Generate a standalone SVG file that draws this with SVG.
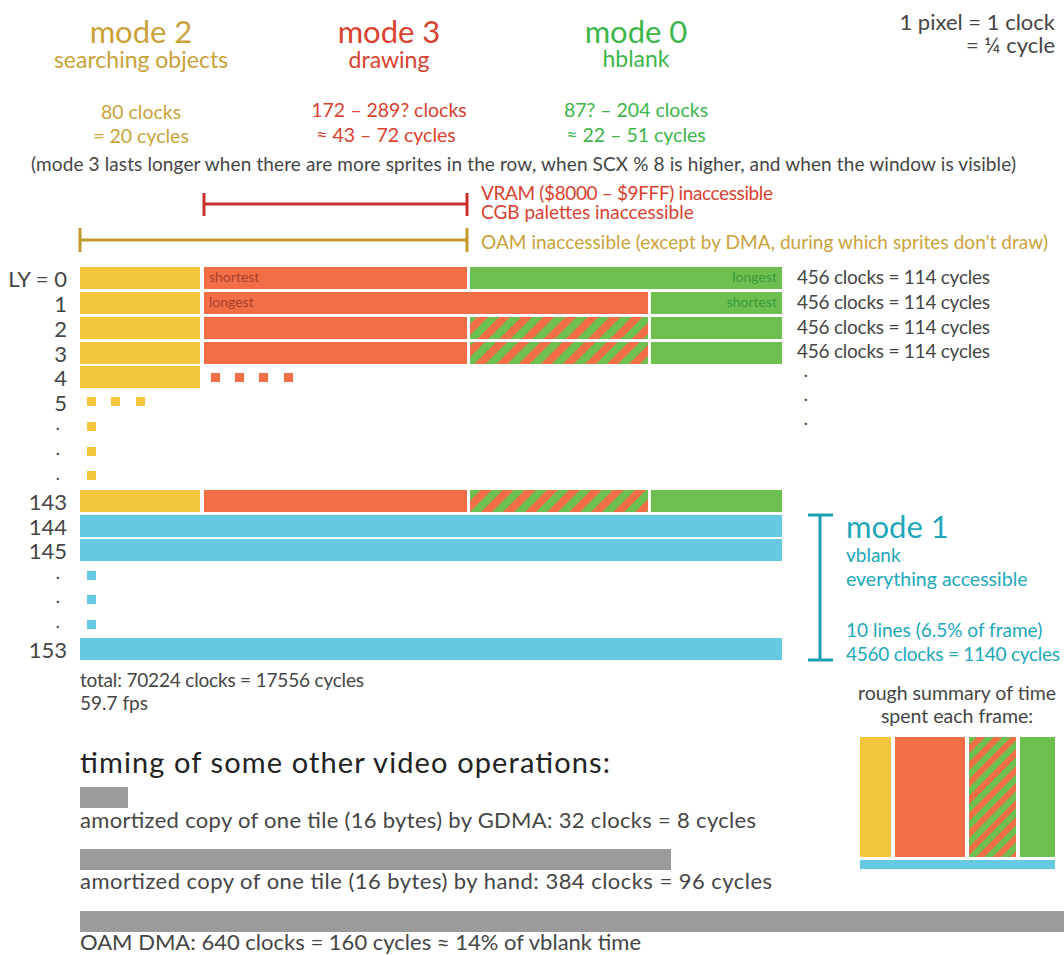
<svg xmlns="http://www.w3.org/2000/svg" width="1064" height="955" viewBox="0 0 1064 955">
  <style>
    text { font-family: Lato, "Noto Sans", "Liberation Sans", sans-serif; }
    .gold { fill: #c9a23a; }
    .red { fill: #d8422f; }
    .green { fill: #3db54b; }
    .cyan { fill: #22a7ba; }
    .grey { fill: #454545; }
    .big { font-size: 31px; }
    .sub { font-size: 23px; }
    .cnt { font-size: 19.5px; }
    .note { font-size: 19px; }
    .row { font-size: 22px; fill: #454545; text-anchor: end; }
    .dot { font-size: 15px; font-weight: bold; fill: #454545; }
    .tag { font-size: 14px; }
    .mid { text-anchor: middle; }
    .end { text-anchor: end; }
    .op { font-size: 22px; fill: #454545; }
    .y { fill: #f4c63d; }
    .o { fill: #f26e47; }
    .g { fill: #6dbf50; }
    .s { fill: url(#stripes); }
    .s2 { fill: url(#stripes2); }
    .c { fill: #64c9e1; }
    .bar { fill: #9b9b9b; }
  </style>
  <defs>
    <!-- red/green diagonal hatching for the variable mode 3 / mode 0 span -->
    <pattern id="stripes" width="15.6" height="15.6" patternUnits="userSpaceOnUse" patternTransform="rotate(45)">
      <rect width="15.6" height="15.6" fill="#6dbf50"/>
      <rect width="7.8" height="15.6" fill="#f26e47"/>
    </pattern>
    <pattern id="stripes2" width="12" height="12" patternUnits="userSpaceOnUse" patternTransform="rotate(45)">
      <rect width="12" height="12" fill="#6dbf50"/>
      <rect width="6" height="12" fill="#f26e47"/>
    </pattern>
  </defs>

  <rect width="1064" height="955" fill="#ffffff"/>

  <!-- mode headings -->
  <g id="mode2-head">
    <text x="141" y="43" class="big gold mid">mode 2</text>
    <text x="141" y="68" class="sub gold mid">searching objects</text>
    <text x="141" y="119" class="cnt gold mid">80 clocks</text>
    <text x="141" y="143" class="cnt gold mid">= 20 cycles</text>
  </g>
  <g id="mode3-head">
    <text x="389" y="43" class="big red mid">mode 3</text>
    <text x="389" y="68" class="sub red mid">drawing</text>
    <text x="389" y="117" class="cnt red mid">172 – 289? clocks</text>
    <text x="386" y="142" class="cnt red mid">≈ 43 – 72 cycles</text>
  </g>
  <g id="mode0-head">
    <text x="636" y="43" class="big green mid">mode 0</text>
    <text x="636" y="67" class="sub green mid">hblank</text>
    <text x="636" y="117" class="cnt green mid">87? – 204 clocks</text>
    <text x="636" y="142" class="cnt green mid">≈ 22 – 51 cycles</text>
  </g>
  <g id="scale-note">
    <text x="1055" y="30" class="grey end" font-size="22">1 pixel = 1 clock</text>
    <text x="1055" y="53" class="grey end" font-size="22">= ¼ cycle</text>
  </g>
  <g id="mode3-note">
    <text x="31" y="171" class="note grey" textLength="985">(mode 3 lasts longer when there are more sprites in the row, when SCX % 8 is higher, and when the window is visible)</text>
  </g>

  <!-- access brackets -->
  <g id="vram-bracket">
    <path d="M204 204H467M204 193V216M467 193V216" stroke="#c9302c" stroke-width="3" fill="none"/>
    <text x="481" y="200" class="note red" textLength="292">VRAM ($8000 – $9FFF) inaccessible</text>
    <text x="481" y="219" class="note red">CGB palettes inaccessible</text>
  </g>
  <g id="oam-bracket">
    <path d="M80 240H467M80 228V252M467 228V252" stroke="#c49a2c" stroke-width="3" fill="none"/>
    <text x="481" y="249" class="note gold" textLength="567">OAM inaccessible (except by DMA, during which sprites don't draw)</text>
  </g>

  <!-- scanline rows -->
  <g id="row-0">
    <text x="67" y="287" class="row">LY = 0</text>
    <rect x="80" y="267" width="120" height="22" class="y"/>
    <rect x="204" y="267" width="263" height="22" class="o"/>
    <rect x="470" y="267" width="312" height="22" class="g"/>
    <text x="209" y="282" class="tag" fill="#a9402a">shortest</text>
    <text x="777" y="282" class="tag end" fill="#3a9a3a">longest</text>
  </g>
  <g id="row-1">
    <text x="67" y="312" class="row">1</text>
    <rect x="80" y="292" width="120" height="22" class="y"/>
    <rect x="204" y="292" width="444" height="22" class="o"/>
    <rect x="651" y="292" width="131" height="22" class="g"/>
    <text x="209" y="307" class="tag" fill="#a9402a">longest</text>
    <text x="777" y="307" class="tag end" fill="#3a9a3a">shortest</text>
  </g>
  <g id="row-2">
    <text x="67" y="337" class="row">2</text>
    <rect x="80" y="317" width="120" height="22" class="y"/>
    <rect x="204" y="317" width="263" height="22" class="o"/>
    <rect x="470" y="317" width="178" height="22" class="s"/>
    <rect x="651" y="317" width="131" height="22" class="g"/>
  </g>
  <g id="row-3">
    <text x="67" y="362" class="row">3</text>
    <rect x="80" y="342" width="120" height="22" class="y"/>
    <rect x="204" y="342" width="263" height="22" class="o"/>
    <rect x="470" y="342" width="178" height="22" class="s"/>
    <rect x="651" y="342" width="131" height="22" class="g"/>
  </g>
  <g id="row-4">
    <text x="67" y="386" class="row">4</text>
    <rect x="80" y="366" width="120" height="22" class="y"/>
    <rect x="211" y="373" width="9" height="9" class="o"/>
    <rect x="235" y="373" width="9" height="9" class="o"/>
    <rect x="259" y="373" width="9" height="9" class="o"/>
    <rect x="284" y="373" width="9" height="9" class="o"/>
  </g>
  <g id="row-5">
    <text x="67" y="411" class="row">5</text>
    <rect x="87" y="397" width="9" height="9" class="y"/>
    <rect x="111" y="397" width="9" height="9" class="y"/>
    <rect x="136" y="397" width="9" height="9" class="y"/>
  </g>
  <g id="rows-elided">
    <text x="56" y="430" class="dot">.</text>
    <text x="56" y="455" class="dot">.</text>
    <text x="56" y="480" class="dot">.</text>
    <rect x="87" y="422" width="9" height="9" class="y"/>
    <rect x="87" y="447" width="9" height="9" class="y"/>
    <rect x="87" y="471" width="9" height="9" class="y"/>
  </g>
  <g id="row-143">
    <text x="67" y="510" class="row">143</text>
    <rect x="80" y="490" width="120" height="22" class="y"/>
    <rect x="204" y="490" width="263" height="22" class="o"/>
    <rect x="470" y="490" width="178" height="22" class="s"/>
    <rect x="651" y="490" width="131" height="22" class="g"/>
  </g>
  <g id="row-144">
    <text x="67" y="535" class="row">144</text>
    <rect x="80" y="515" width="702" height="22" class="c"/>
  </g>
  <g id="row-145">
    <text x="67" y="559" class="row">145</text>
    <rect x="80" y="539" width="702" height="22" class="c"/>
  </g>
  <g id="vblank-elided">
    <text x="56" y="579" class="dot">.</text>
    <text x="56" y="603" class="dot">.</text>
    <text x="56" y="628" class="dot">.</text>
    <rect x="87" y="571" width="9" height="9" class="c"/>
    <rect x="87" y="595" width="9" height="9" class="c"/>
    <rect x="87" y="620" width="9" height="9" class="c"/>
  </g>
  <g id="row-153">
    <text x="67" y="658" class="row">153</text>
    <rect x="80" y="638" width="702" height="22" class="c"/>
  </g>

  <!-- per-line totals -->
  <g id="line-totals">
    <text x="797" y="284" class="note grey" textLength="193">456 clocks = 114 cycles</text>
    <text x="797" y="309" class="note grey" textLength="193">456 clocks = 114 cycles</text>
    <text x="797" y="334" class="note grey" textLength="193">456 clocks = 114 cycles</text>
    <text x="797" y="358" class="note grey" textLength="193">456 clocks = 114 cycles</text>
    <text x="804" y="377" class="dot">.</text>
    <text x="804" y="401" class="dot">.</text>
    <text x="804" y="425" class="dot">.</text>
  </g>

  <!-- vblank bracket -->
  <g id="mode1">
    <path d="M820 515V660M808 515H833M808 660H833" stroke="#1a9fb0" stroke-width="3" fill="none"/>
    <text x="846" y="538" class="big cyan">mode 1</text>
    <text x="846" y="562" class="note cyan">vblank</text>
    <text x="846" y="586" class="cyan" font-size="19.5">everything accessible</text>
    <text x="846" y="637" class="note cyan">10 lines (6.5% of frame)</text>
    <text x="846" y="661" class="note cyan" textLength="214">4560 clocks = 1140 cycles</text>
  </g>

  <g id="frame-total">
    <text x="80" y="687" class="grey" font-size="19" textLength="284">total: 70224 clocks = 17556 cycles</text>
    <text x="80" y="710" class="grey" font-size="19">59.7 fps</text>
  </g>

  <!-- frame time summary -->
  <g id="summary">
    <text x="957" y="700" class="grey mid" font-size="19.5">rough summary of time</text>
    <text x="957" y="723" class="grey mid" font-size="19.5">spent each frame:</text>
    <rect x="860" y="737" width="31" height="120" class="y"/>
    <rect x="895" y="737" width="70" height="120" class="o"/>
    <rect x="969" y="737" width="47" height="120" class="s2"/>
    <rect x="1020" y="737" width="35" height="120" class="g"/>
    <rect x="860" y="860" width="195" height="9" class="c"/>
  </g>

  <!-- other operations -->
  <g id="other-ops">
    <text x="80" y="773" font-size="29" fill="#222222" textLength="530">timing of some other video operations:</text>
  </g>
  <g id="op-gdma">
    <rect x="80" y="787" width="48" height="21" class="bar"/>
    <text x="80" y="828" class="op" textLength="676">amortized copy of one tile (16 bytes) by GDMA: 32 clocks = 8 cycles</text>
  </g>
  <g id="op-hand">
    <rect x="80" y="849" width="591" height="21" class="bar"/>
    <text x="80" y="889" class="op" textLength="692">amortized copy of one tile (16 bytes) by hand: 384 clocks = 96 cycles</text>
  </g>
  <g id="op-oamdma">
    <rect x="80" y="911" width="984" height="21" class="bar"/>
    <text x="80" y="950" class="op" textLength="561">OAM DMA: 640 clocks = 160 cycles ≈ 14% of vblank time</text>
  </g>
</svg>
